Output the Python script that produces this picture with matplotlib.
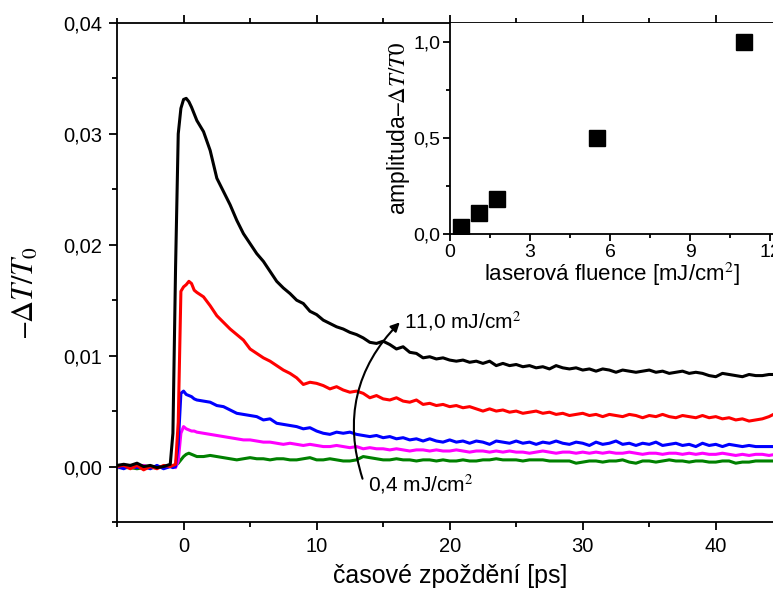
import matplotlib
matplotlib.use('Agg')
import matplotlib.pyplot as plt
from matplotlib.ticker import MultipleLocator, FixedLocator, FixedFormatter

# delay axis [ps]
t = [-5.0, -4.5, -4.0, -3.5, -3.0, -2.5, -2.0, -1.5, -1.0,
     -0.8, -0.6, -0.4, -0.2, 0.0, 0.2, 0.4, 0.6, 0.8, 1.0,
     1.5, 2.0, 2.5, 3.0, 3.5, 4.0, 4.5, 5.0,
     5.5, 6.0, 6.5, 7.0, 7.5, 8.0, 8.5, 9.0, 9.5, 10.0,
     10.5, 11.0, 11.5, 12.0, 12.5, 13.0, 13.5, 14.0, 14.5, 15.0,
     15.5, 16.0, 16.5, 17.0, 17.5, 18.0, 18.5, 19.0, 19.5, 20.0,
     20.5, 21.0, 21.5, 22.0, 22.5, 23.0, 23.5, 24.0, 24.5, 25.0,
     25.5, 26.0, 26.5, 27.0, 27.5, 28.0, 28.5, 29.0, 29.5, 30.0,
     30.5, 31.0, 31.5, 32.0, 32.5, 33.0, 33.5, 34.0, 34.5, 35.0,
     35.5, 36.0, 36.5, 37.0, 37.5, 38.0, 38.5, 39.0, 39.5, 40.0,
     40.5, 41.0, 41.5, 42.0, 42.5, 43.0, 43.5, 44.0, 44.5]

# -dT/T0 in units of 1e-3
f_110 = [0.1, 0.2, 0.1, 0.3, 0.0, 0.1, -0.1, 0.0, 0.2,
         3.0, 18.0, 30.0, 32.3, 33.1, 33.2, 32.9, 32.4, 31.8, 31.2,
         30.2, 28.5, 26.0, 24.8, 23.6, 22.2, 21.0, 20.1,
         19.2, 18.5, 17.6, 16.7, 16.1, 15.6, 15.0, 14.7, 14.0, 13.7,
         13.2, 12.9, 12.6, 12.4, 12.1, 11.9, 11.6, 11.2, 11.1, 11.3,
         11.0, 10.6, 10.8, 10.3, 10.2, 9.8, 9.9, 9.7, 9.8, 9.6,
         9.5, 9.6, 9.4, 9.5, 9.3, 9.5, 9.1, 9.3, 9.1, 9.2,
         9.0, 9.1, 8.9, 9.0, 8.8, 9.1, 8.9, 8.8, 8.9, 8.7,
         8.8, 8.6, 8.8, 8.7, 8.5, 8.7, 8.6, 8.5, 8.6, 8.7,
         8.5, 8.6, 8.4, 8.5, 8.6, 8.4, 8.5, 8.4, 8.2, 8.1,
         8.4, 8.3, 8.2, 8.1, 8.3, 8.2, 8.2, 8.3, 8.3]

f_55 = [0.0, 0.1, -0.2, 0.1, -0.3, 0.0, -0.2, 0.1, 0.0,
        0.1, 0.2, 4.0, 15.8, 16.2, 16.4, 16.7, 16.5, 15.9, 15.7,
        15.3, 14.5, 13.6, 13.0, 12.4, 11.9, 11.4, 10.6,
        10.2, 9.8, 9.5, 9.1, 8.7, 8.4, 8.0, 7.4, 7.6, 7.5,
        7.3, 7.0, 7.2, 6.9, 6.7, 6.8, 6.6, 6.2, 6.4, 6.1,
        6.0, 6.2, 5.9, 5.8, 6.0, 5.6, 5.7, 5.5, 5.6, 5.4,
        5.5, 5.3, 5.4, 5.2, 5.0, 5.2, 5.0, 5.1, 4.9, 5.0,
        4.8, 4.9, 5.0, 4.8, 4.9, 4.7, 4.8, 4.6, 4.7, 4.8,
        4.6, 4.7, 4.5, 4.7, 4.6, 4.5, 4.7, 4.6, 4.4, 4.6,
        4.5, 4.7, 4.5, 4.4, 4.6, 4.5, 4.4, 4.6, 4.4, 4.5,
        4.3, 4.4, 4.2, 4.3, 4.1, 4.2, 4.3, 4.5, 4.8]

f_18 = [0.0, -0.2, 0.1, -0.1, 0.0, -0.2, 0.1, -0.2, 0.0,
        -0.1, 0.0, 2.0, 6.6, 6.8, 6.5, 6.4, 6.3, 6.1, 6.0,
        5.9, 5.8, 5.5, 5.4, 5.1, 4.8, 4.7, 4.6,
        4.5, 4.2, 4.3, 3.9, 3.8, 3.7, 3.6, 3.4, 3.5, 3.2,
        3.0, 2.9, 3.1, 3.0, 3.1, 2.9, 2.8, 2.7, 2.8, 2.6,
        2.7, 2.5, 2.6, 2.4, 2.5, 2.3, 2.5, 2.3, 2.2, 2.4,
        2.2, 2.3, 2.1, 2.3, 2.2, 2.0, 2.3, 2.2, 2.1, 2.3,
        2.1, 2.2, 2.0, 2.2, 2.1, 2.3, 2.1, 2.0, 2.2, 2.1,
        1.9, 2.2, 2.0, 2.1, 2.3, 2.0, 2.1, 1.9, 2.1, 2.0,
        2.2, 1.9, 2.0, 2.1, 1.9, 2.0, 1.8, 2.1, 1.9, 2.0,
        1.8, 2.0, 1.9, 1.8, 1.9, 1.8, 1.8, 1.8, 1.8]

f_11 = [-0.1, 0.0, -0.1, 0.0, 0.1, -0.1, 0.0, -0.1, 0.0,
        0.0, -0.1, 0.5, 3.0, 3.6, 3.4, 3.3, 3.2, 3.2, 3.1,
        3.0, 2.9, 2.8, 2.7, 2.6, 2.5, 2.4, 2.4,
        2.3, 2.2, 2.2, 2.1, 2.0, 2.1, 2.0, 1.9, 2.0, 1.9,
        1.8, 1.8, 1.9, 1.8, 1.7, 1.8, 1.6, 1.7, 1.6, 1.6,
        1.5, 1.6, 1.5, 1.4, 1.5, 1.5, 1.4, 1.5, 1.4, 1.4,
        1.5, 1.4, 1.3, 1.4, 1.4, 1.3, 1.4, 1.3, 1.4, 1.3,
        1.3, 1.2, 1.3, 1.4, 1.3, 1.2, 1.3, 1.3, 1.2, 1.3,
        1.2, 1.3, 1.2, 1.3, 1.2, 1.2, 1.3, 1.2, 1.1, 1.2,
        1.2, 1.1, 1.2, 1.2, 1.1, 1.2, 1.1, 1.2, 1.1, 1.1,
        1.2, 1.1, 1.0, 1.1, 1.0, 1.1, 1.1, 1.0, 1.1]

f_04 = [-0.1, -0.1, -0.1, -0.2, -0.1, -0.1, -0.1, 0.0, 0.0,
        0.0, 0.1, 0.3, 0.6, 0.9, 1.1, 1.2, 1.1, 1.0, 0.9,
        0.9, 1.0, 0.9, 0.8, 0.7, 0.6, 0.7, 0.8,
        0.7, 0.7, 0.6, 0.7, 0.7, 0.6, 0.6, 0.7, 0.8, 0.6,
        0.6, 0.7, 0.6, 0.5, 0.5, 0.6, 0.9, 0.8, 0.7, 0.6,
        0.6, 0.7, 0.6, 0.6, 0.5, 0.6, 0.6, 0.5, 0.6, 0.5,
        0.5, 0.6, 0.5, 0.5, 0.6, 0.6, 0.7, 0.6, 0.6, 0.6,
        0.5, 0.6, 0.6, 0.6, 0.5, 0.5, 0.5, 0.5, 0.3, 0.4,
        0.5, 0.5, 0.4, 0.5, 0.5, 0.6, 0.4, 0.3, 0.5, 0.5,
        0.4, 0.5, 0.6, 0.5, 0.5, 0.4, 0.5, 0.5, 0.4, 0.4,
        0.5, 0.5, 0.3, 0.4, 0.4, 0.5, 0.5, 0.5, 0.5]

series = [f_04, f_11, f_18, f_55, f_110]
colors = ['#008000', '#ff00ff', '#0000ff', '#ff0000', '#000000']

# inset: normalised amplitude vs fluence
fluence = [0.4, 1.1, 1.75, 5.5, 11.0]
amplitude = [0.035, 0.11, 0.185, 0.5, 1.0]

x_ticks = [0, 10, 20, 30, 40]
y_ticks = [0.00, 0.01, 0.02, 0.03, 0.04]
y_ticklabels = ['0,00', '0,01', '0,02', '0,03', '0,04']
in_x_ticks = [0, 3, 6, 9, 12]
in_y_ticks = [0.0, 0.5, 1.0]
in_y_ticklabels = ['0,0', '0,5', '1,0']

plt.rcParams['font.family'] = ['Liberation Sans', 'DejaVu Sans']
plt.rcParams['mathtext.fontset'] = 'stix'

fig = plt.figure(figsize=(7.73, 5.90), dpi=100)
ax = fig.add_axes([0.1514, 0.1153, 0.8486, 0.8458])

for y, c in zip(series, colors):
  ax.plot(t, [v * 1e-3 for v in y], color=c, lw=2.2)

ax.set_xlim(-5, 44.3)
ax.set_ylim(-0.005, 0.04)
ax.xaxis.set_major_locator(FixedLocator(x_ticks))
ax.xaxis.set_minor_locator(MultipleLocator(5))
ax.yaxis.set_major_locator(FixedLocator(y_ticks))
ax.yaxis.set_major_formatter(FixedFormatter(y_ticklabels))
ax.yaxis.set_minor_locator(MultipleLocator(0.005))
ax.spines['right'].set_visible(False)
for s in ['left', 'bottom', 'top']:
  ax.spines[s].set_linewidth(1.3)
ax.tick_params(which='both', direction='out', top=True, width=1.3, labelsize=14.5)
ax.tick_params(which='major', length=6, pad=5)
ax.tick_params(which='minor', length=3.5)
ax.set_xlabel('časové zpoždění [ps]', fontsize=18, labelpad=4)
ax.xaxis.set_label_coords(0.508, -0.085)
ax.set_ylabel(r'$–\mathit{\Delta T/T_0}$', fontsize=22)
ax.yaxis.set_label_coords(-0.116, 0.46)

ax.annotate('', xy=(16.25, 0.0130), xytext=(13.45, -0.0011),
            arrowprops=dict(arrowstyle='-|>', connectionstyle='arc3,rad=-0.3',
                            color='black', lw=1.5, mutation_scale=13,
                            shrinkA=0, shrinkB=0))
ax.text(16.6, 0.0131, r'11,0 mJ/cm$^2$', fontsize=15, va='center', ha='left')
ax.text(13.85, -0.0016, r'0,4 mJ/cm$^2$', fontsize=15, va='center', ha='left')

ins = fig.add_axes([0.5821, 0.6034, 0.4179, 0.3576])
ins.plot(fluence, amplitude, 's', color='black', markersize=11)
ins.set_xlim(0, 12.1)
ins.set_ylim(0, 1.1)
ins.xaxis.set_major_locator(FixedLocator(in_x_ticks))
ins.xaxis.set_minor_locator(MultipleLocator(1.5))
ins.yaxis.set_major_locator(FixedLocator(in_y_ticks))
ins.yaxis.set_major_formatter(FixedFormatter(in_y_ticklabels))
ins.yaxis.set_minor_locator(MultipleLocator(0.25))
ins.spines['right'].set_visible(False)
ins.spines['top'].set_visible(False)
for s in ['left', 'bottom']:
  ins.spines[s].set_linewidth(1.3)
ins.tick_params(which='both', direction='out', width=1.3, labelsize=14, pad=2)
ins.tick_params(which='major', length=5)
ins.tick_params(which='minor', length=3)
ins.set_xlabel(r'laserová fluence [mJ/cm$^{2}$]', fontsize=16, labelpad=0)
ins.set_ylabel(r'amplituda–$\mathit{\Delta T/T0}$', fontsize=16.5, labelpad=1)

fig.savefig('out.png', dpi=100)
